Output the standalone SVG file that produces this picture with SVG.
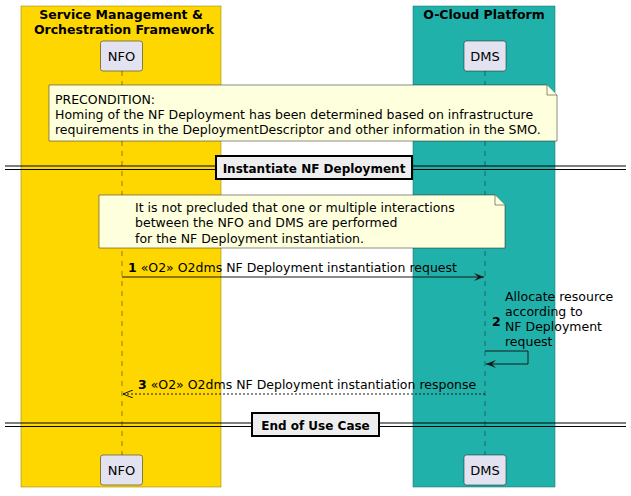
<svg xmlns="http://www.w3.org/2000/svg" width="631" height="496" viewBox="0 0 631 496">
<defs>
<style>
text{font-family:"DejaVu Sans","Liberation Sans",sans-serif;fill:#000}
.t{font-size:12.5px}
.b{font-weight:bold}
.h{font-size:12.5px;font-weight:bold}
.d{font-size:12px;font-weight:bold}
.p{font-size:13px}
.part{fill:#E2E2F0;stroke:#181818;stroke-width:0.5}
.life{stroke:#181818;stroke-width:0.5;stroke-dasharray:5,5;fill:none}
.note{fill:#FEFFDD;stroke:#181818;stroke-width:0.5}
.div{stroke:#000;stroke-width:1.2}
.dbox{fill:#EEEEEE;stroke:#000;stroke-width:2}
.msg{stroke:#181818;stroke-width:1;fill:none}
</style>
<marker id="ah" viewBox="0 0 10 8" refX="10" refY="4" markerWidth="10" markerHeight="8" orient="auto" markerUnits="userSpaceOnUse">
<path d="M0,0 L10,4 L0,8 L4,4 Z" fill="#181818"/>
</marker>
<marker id="oh" viewBox="0 0 10 8" refX="10" refY="4" markerWidth="10" markerHeight="8" orient="auto" markerUnits="userSpaceOnUse">
<path d="M0,0 L10,4 L0,8" fill="none" stroke="#181818" stroke-width="1"/>
</marker>
</defs>

<g id="box-smo">
<rect x="21" y="6" width="200" height="481" fill="#FFD700" stroke="#8a7a00" stroke-width="0.5"/>
<text class="h" x="121" y="19" text-anchor="middle">Service Management &amp;</text>
<text class="h" x="124" y="34" text-anchor="middle">Orchestration Framework</text>
</g>
<g id="box-ocloud">
<rect x="413" y="6" width="142" height="481" fill="#20B2AA" stroke="#106a64" stroke-width="0.5"/>
<text class="h" x="484" y="19" text-anchor="middle">O-Cloud Platform</text>
</g>

<g id="lifelines">
<line class="life" x1="122" y1="71" x2="122" y2="455"/>
<line class="life" x1="485" y1="71" x2="485" y2="455"/>
</g>

<g id="NFO">
<rect class="part" x="100.5" y="41" width="42" height="30" rx="2.5"/>
<text class="p" x="121.5" y="61" text-anchor="middle">NFO</text>
</g>
<g id="DMS">
<rect class="part" x="464" y="41" width="42" height="30" rx="2.5"/>
<text class="p" x="485" y="61" text-anchor="middle">DMS</text>
</g>
<g id="NFO-bottom">
<rect class="part" x="100.5" y="455" width="42" height="30" rx="2.5"/>
<text class="p" x="121.5" y="475" text-anchor="middle">NFO</text>
</g>
<g id="DMS-bottom">
<rect class="part" x="464" y="455" width="42" height="30" rx="2.5"/>
<text class="p" x="485" y="475" text-anchor="middle">DMS</text>
</g>

<g id="note-precondition">
<path class="note" d="M49,85 L547,85 L557,95 L557,141 L49,141 Z"/>
<path class="note" d="M547,85 L547,95 L557,95"/>
<text class="t" x="55" y="104">PRECONDITION:</text>
<text class="t" x="55" y="119">Homing of the NF Deployment has been determined based on infrastructure</text>
<text class="t" x="55" y="134">requirements in the DeploymentDescriptor and other information in the SMO.</text>
</g>

<g id="divider-instantiate">
<line class="div" x1="5" y1="166" x2="626" y2="166"/>
<line class="div" x1="5" y1="169.5" x2="626" y2="169.5"/>
<rect class="dbox" x="216" y="156" width="196" height="23"/>
<text class="d" x="314" y="172.5" text-anchor="middle">Instantiate NF Deployment</text>
</g>

<g id="note-interactions">
<path class="note" d="M99,195 L495,195 L505,205 L505,248 L99,248 Z"/>
<path class="note" d="M495,195 L495,205 L505,205"/>
<text class="t" x="135" y="212">It is not precluded that one or multiple interactions</text>
<text class="t" x="135" y="227">between the NFO and DMS are performed</text>
<text class="t" x="135" y="243">for the NF Deployment instantiation.</text>
</g>

<g id="connectors">
<g id="msg1">
<line class="msg" x1="122" y1="277" x2="484" y2="277" marker-end="url(#ah)"/>
<text class="t" x="128" y="272"><tspan class="b">1</tspan> «O2» O2dms NF Deployment instantiation request</text>
</g>
<g id="msg2">
<polyline class="msg" points="485,351 528,351 528,364 486,364" marker-end="url(#ah)"/>
<text class="t b" x="492" y="326">2</text>
<text class="t" x="505" y="301">Allocate resource</text>
<text class="t" x="505" y="316">according to</text>
<text class="t" x="505" y="331">NF Deployment</text>
<text class="t" x="505" y="346">request</text>
</g>
<g id="msg3">
<line class="msg" x1="485" y1="394" x2="123" y2="394" stroke-dasharray="2,2" marker-end="url(#oh)"/>
<text class="t" x="138" y="389"><tspan class="b">3</tspan> «O2» O2dms NF Deployment instantiation response</text>
</g>
</g>

<g id="divider-end">
<line class="div" x1="5" y1="423" x2="626" y2="423"/>
<line class="div" x1="5" y1="426.5" x2="626" y2="426.5"/>
<rect class="dbox" x="252" y="413" width="127" height="23"/>
<text class="d" x="315.5" y="429.5" text-anchor="middle">End of Use Case</text>
</g>
</svg>
